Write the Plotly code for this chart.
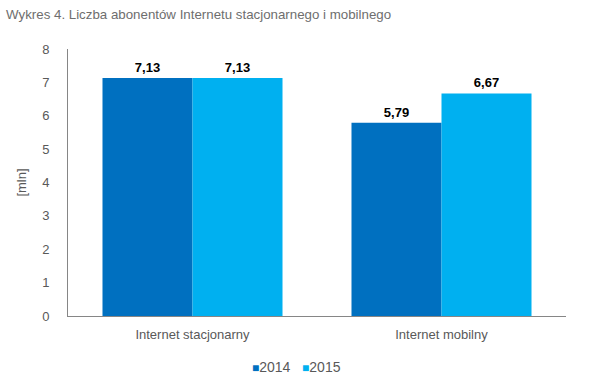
import plotly.graph_objects as go

categories = ["Internet stacjonarny", "Internet mobilny"]
years = ["2014", "2015"]
values_2014 = [7.13, 5.79]
values_2015 = [7.13, 6.67]
labels_2014 = ["7,13", "5,79"]
labels_2015 = ["7,13", "6,67"]
y_ticks = [0, 1, 2, 3, 4, 5, 6, 7, 8]
colors = ["#0070C0", "#00B0F0"]

fig = go.Figure()
for name, vals, labs, col in [
    (years[0], values_2014, labels_2014, colors[0]),
    (years[1], values_2015, labels_2015, colors[1]),
]:
    fig.add_trace(go.Bar(
        x=categories, y=vals, name=name, marker=dict(color=col, line=dict(width=0)),
        text=labs, textposition="outside", cliponaxis=False,
        textfont=dict(family="Liberation Sans, Arial", size=13, color="#000000"),
        texttemplate="<b>%{text}</b>", showlegend=False,
    ))

legend_text = "   ".join(
    f"<span style='color:{c};font-size:12px'>■</span>{y}" for y, c in zip(years, colors)
)
fig.add_annotation(
    text=legend_text, xref="paper", yref="paper", x=(296 - 68) / 498, y=-(367 - 316) / 267,
    xanchor="center", yanchor="middle", showarrow=False,
    font=dict(size=14, color="#595959"),
)

fig.update_layout(
    width=610, height=376,
    margin=dict(l=68, r=44, t=49, b=60, autoexpand=False),
    paper_bgcolor="white", plot_bgcolor="white",
    barmode="group", bargap=0.277, bargroupgap=0,
    font=dict(family="Liberation Sans, Arial", size=13, color="#595959"),
    title=dict(text="Wykres 4. Liczba abonentów Internetu stacjonarnego i mobilnego",
               x=0.01, xanchor="left", y=0.963, yanchor="middle",
               font=dict(size=13.3, color="#6e6e6e")),
    showlegend=False,
    xaxis=dict(showline=True, linecolor="#868686", linewidth=1, ticks="",
               tickfont=dict(size=13, color="#595959"), showgrid=False,
               ticklabelstandoff=6, automargin=False),
    yaxis=dict(range=[0, 8], tickvals=y_ticks, showline=True, linecolor="#868686",
               linewidth=1, showgrid=False, zeroline=False, ticks="",
               tickfont=dict(size=13, color="#595959"), ticklabelstandoff=15,
               automargin=False,
               title=dict(text="[mln]", standoff=12, font=dict(size=13, color="#595959"))),
)

fig.write_html("out.html", config={"displayModeBar": False},
               post_script="document.body.style.margin='0';")
